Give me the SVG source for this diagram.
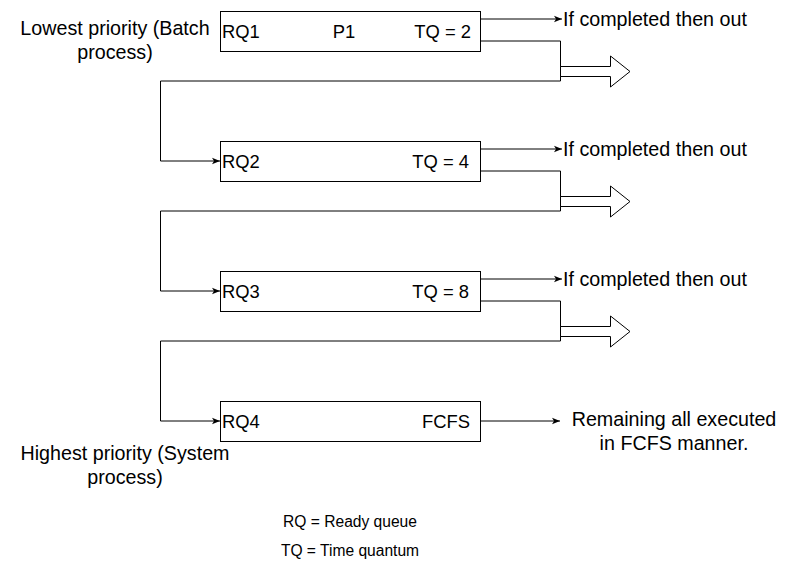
<svg xmlns="http://www.w3.org/2000/svg" width="791" height="562" viewBox="0 0 791 562">
<style>
text{font-family:"Liberation Sans",Arial,sans-serif;fill:#000}
.t{font-size:19.7px}
.b{font-size:18.4px}
.s{font-size:15.6px}
.box{fill:#fff;stroke:#000;stroke-width:1}
.ln{fill:none;stroke:#000;stroke-width:1}
.fa{fill:#fff;stroke:#000;stroke-width:1;stroke-linejoin:miter}
</style>
<defs>
<marker id="ah" viewBox="0 0 10 10" refX="10" refY="5" markerWidth="8" markerHeight="8" markerUnits="userSpaceOnUse" orient="auto">
<path d="M0,1 L10,5 L0,9 L2.5,5 Z" fill="#000"/>
</marker>
</defs>
<rect width="791" height="562" fill="#fff"/>
<g id="connectors">
<path class="ln" d="M480,19 H562" marker-end="url(#ah)"/>
<path class="ln" d="M480,41 H560.5 V81 H160.5 V161 H220" marker-end="url(#ah)"/>
<path class="ln" d="M480,149 H562" marker-end="url(#ah)"/>
<path class="ln" d="M480,171 H560.5 V211 H160.5 V291 H220" marker-end="url(#ah)"/>
<path class="ln" d="M480,279 H562" marker-end="url(#ah)"/>
<path class="ln" d="M480,301 H560.5 V341 H160.5 V421 H220" marker-end="url(#ah)"/>
<path class="ln" d="M480,421 H560" marker-end="url(#ah)"/>
<path class="fa" d="M560.5,66.5 H610.5 V56 L630,71.5 L610.5,87 V76.5 H560.5 Z"/>
<path class="fa" d="M560.5,196.5 H610.5 V186 L630,201.5 L610.5,217 V206.5 H560.5 Z"/>
<path class="fa" d="M560.5,326.5 H610.5 V316 L630,331.5 L610.5,347 V336.5 H560.5 Z"/>
</g>
<g id="rq1">
<rect class="box" x="220.5" y="11.5" width="260" height="40"/>
<text class="b" x="222" y="38">RQ1</text>
<text class="b" x="344" y="38" text-anchor="middle">P1</text>
<text class="b" x="471" y="38" text-anchor="end">TQ = 2</text>
</g>
<g id="rq2">
<rect class="box" x="220.5" y="141.5" width="260" height="40"/>
<text class="b" x="222" y="168">RQ2</text>
<text class="b" x="469" y="168" text-anchor="end">TQ = 4</text>
</g>
<g id="rq3">
<rect class="box" x="220.5" y="271.5" width="260" height="40"/>
<text class="b" x="222" y="298">RQ3</text>
<text class="b" x="469" y="298" text-anchor="end">TQ = 8</text>
</g>
<g id="rq4">
<rect class="box" x="220.5" y="401.5" width="260" height="40"/>
<text class="b" x="222" y="428">RQ4</text>
<text class="b" x="470" y="428" text-anchor="end">FCFS</text>
</g>
<g id="out1"><text class="t" x="563" y="26">If completed then out</text></g>
<g id="out2"><text class="t" x="563" y="156">If completed then out</text></g>
<g id="out3"><text class="t" x="563" y="286">If completed then out</text></g>
<g id="remaining">
<text class="t" x="674" y="426" text-anchor="middle">Remaining all executed</text>
<text class="t" x="674" y="450" text-anchor="middle">in FCFS manner.</text>
</g>
<g id="lowest">
<text class="t" x="115" y="35" text-anchor="middle">Lowest priority (Batch</text>
<text class="t" x="115" y="59" text-anchor="middle">process)</text>
</g>
<g id="highest">
<text class="t" x="125" y="460" text-anchor="middle">Highest priority (System</text>
<text class="t" x="125" y="484" text-anchor="middle">process)</text>
</g>
<g id="legend">
<text class="s" x="350" y="527" text-anchor="middle">RQ = Ready queue</text>
<text class="s" x="350" y="556" text-anchor="middle">TQ = Time quantum</text>
</g>
</svg>
